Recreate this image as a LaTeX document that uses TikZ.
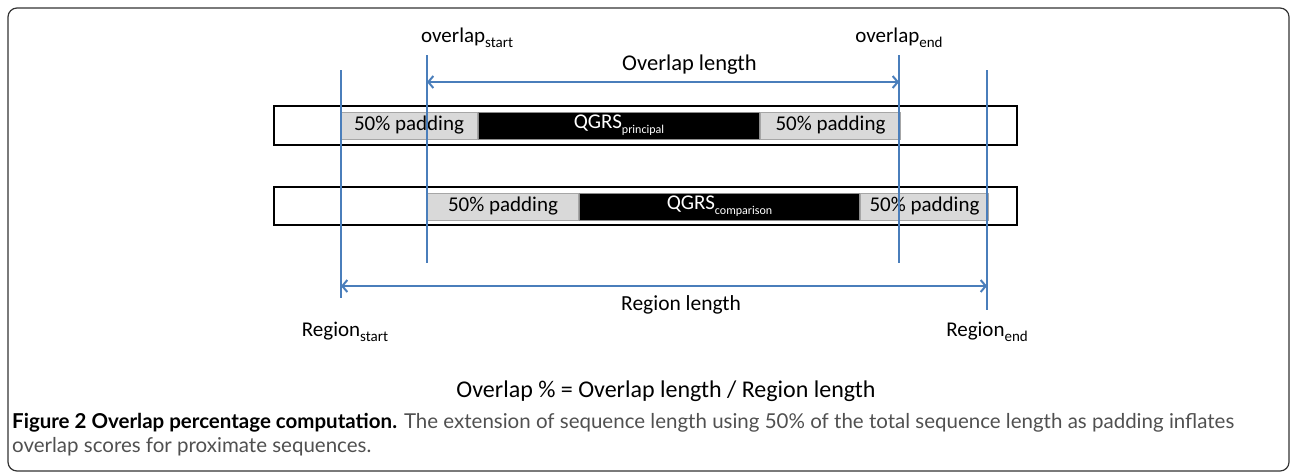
\documentclass[tikz,border=0pt]{standalone}
\usepackage{fontspec}
\setmainfont{Carlito}
\newfontfamily\capfont{Lato}
\usepackage{tikz}
\usetikzlibrary{arrows.meta}
\usetikzlibrary{positioning}
\definecolor{guideblue}{HTML}{4A7EBB}
\definecolor{padgray}{HTML}{D9D9D9}
\definecolor{capgray}{HTML}{505050}
\tikzset{>={Straight Barb[length=5pt,width=12pt,line width=2pt]}}
\newcommand{\subtxt}[2][15]{\raisebox{-5pt}{\fontsize{#1}{#1}\selectfont #2}}
\tikzset{
  frame/.style={draw=black!80, line width=1.2pt, rounded corners=9pt},
  seqbar/.style={draw=black, line width=2.4pt, fill=white, inner sep=0pt},
  padbox/.style={draw=black!35, fill=padgray, line width=1pt, inner sep=0pt,
    minimum height=27, font=\fontsize{21}{25}\selectfont},
  corebox/.style={draw=black!45, fill=black, text=white, line width=1pt, inner sep=0pt,
    minimum height=27, font=\fontsize{21}{25}\selectfont},
  guide/.style={draw=guideblue, line width=2.6pt},
  lbl/.style={inner sep=0pt, font=\fontsize{21}{25}\selectfont},
  caption/.style={inner sep=0pt, text=capgray, font=\capfont\fontsize{20.5}{24}\selectfont},
}

\begin{document}
\begin{tikzpicture}[x=1pt,y=-1pt]
	\useasboundingbox (0,0) rectangle (1292,475);
	\draw[frame] (8,8) rectangle (1289,471);
	% the two sequence bars
	\node[seqbar, minimum width=743, minimum height=39] (bar1) at (645.5,125.5) {};
	\node[seqbar, minimum width=743, minimum height=38] (bar2) at (645.5,206) {};
	% principal sequence with padding
	\node[padbox, minimum width=137, anchor=west] (pad1l) at (340,125.5) {50\% padding};
	\node[corebox, minimum width=281, right=0pt of pad1l] (core1) {QGRS\subtxt[12]{principal}};
	\node[padbox, minimum width=140, right=0pt of core1] (pad1r) {50\% padding};
	% comparison sequence with padding
	\node[padbox, minimum width=151, anchor=west] (pad2l) at (427,206.5) {50\% padding};
	\node[corebox, minimum width=280, right=0pt of pad2l] (core2) {QGRS\subtxt[12]{comparison}};
	\node[padbox, minimum width=128, right=0pt of core2] (pad2r) {50\% padding};
	% guide lines
	\coordinate (rs-top) at (341,70);  \coordinate (rs-bot) at (341,298);
	\coordinate (os-top) at (427,55);  \coordinate (os-bot) at (427,263);
	\coordinate (oe-top) at (899,55);  \coordinate (oe-bot) at (899,263);
	\coordinate (re-top) at (987,70);  \coordinate (re-bot) at (987,310);
	\foreach \g in {rs,os,oe,re}
		\draw[guide] (\g-top) -- (\g-bot);
	% length arrows
	\coordinate (ol-a) at (427,82);  \coordinate (ol-b) at (899,82);
	\coordinate (rl-a) at (341,286); \coordinate (rl-b) at (987,286);
	\draw[guide,<->] (ol-a) -- (ol-b);
	\draw[guide,<->] (rl-a) -- (rl-b);
	% labels
	\node[lbl, anchor=base west] (ostart) at (421,42) {overlap\subtxt{start}};
	\node[lbl, anchor=base] (oend) at (899,42) {overlap\subtxt{end}};
	\node[lbl, anchor=base west, font=\fontsize{22.5}{26}\selectfont] (olen) at (622,70) {Overlap length};
	\node[lbl, anchor=base west, font=\fontsize{21.5}{26}\selectfont] (rlen) at (621,310) {Region length};
	\node[lbl, anchor=base] (rstart) at (345,336) {Region\subtxt{start}};
	\node[lbl, anchor=base] (rend) at (987,336) {Region\subtxt{end}};
	\node[lbl, anchor=base, font=\fontsize{24}{28}\selectfont] (ratio) at (666,397) {Overlap \% = Overlap length / Region length};
	% caption
	\node[caption, anchor=base west] (cap1) at (12,428) {{\bfseries\color{black}Figure 2 Overlap percentage computation.} The extension of sequence length using 50\% of the total sequence length as padding inflates};
	\node[caption, anchor=base west] (cap2) at (12,452) {overlap scores for proximate sequences.};
\end{tikzpicture}
\end{document}
